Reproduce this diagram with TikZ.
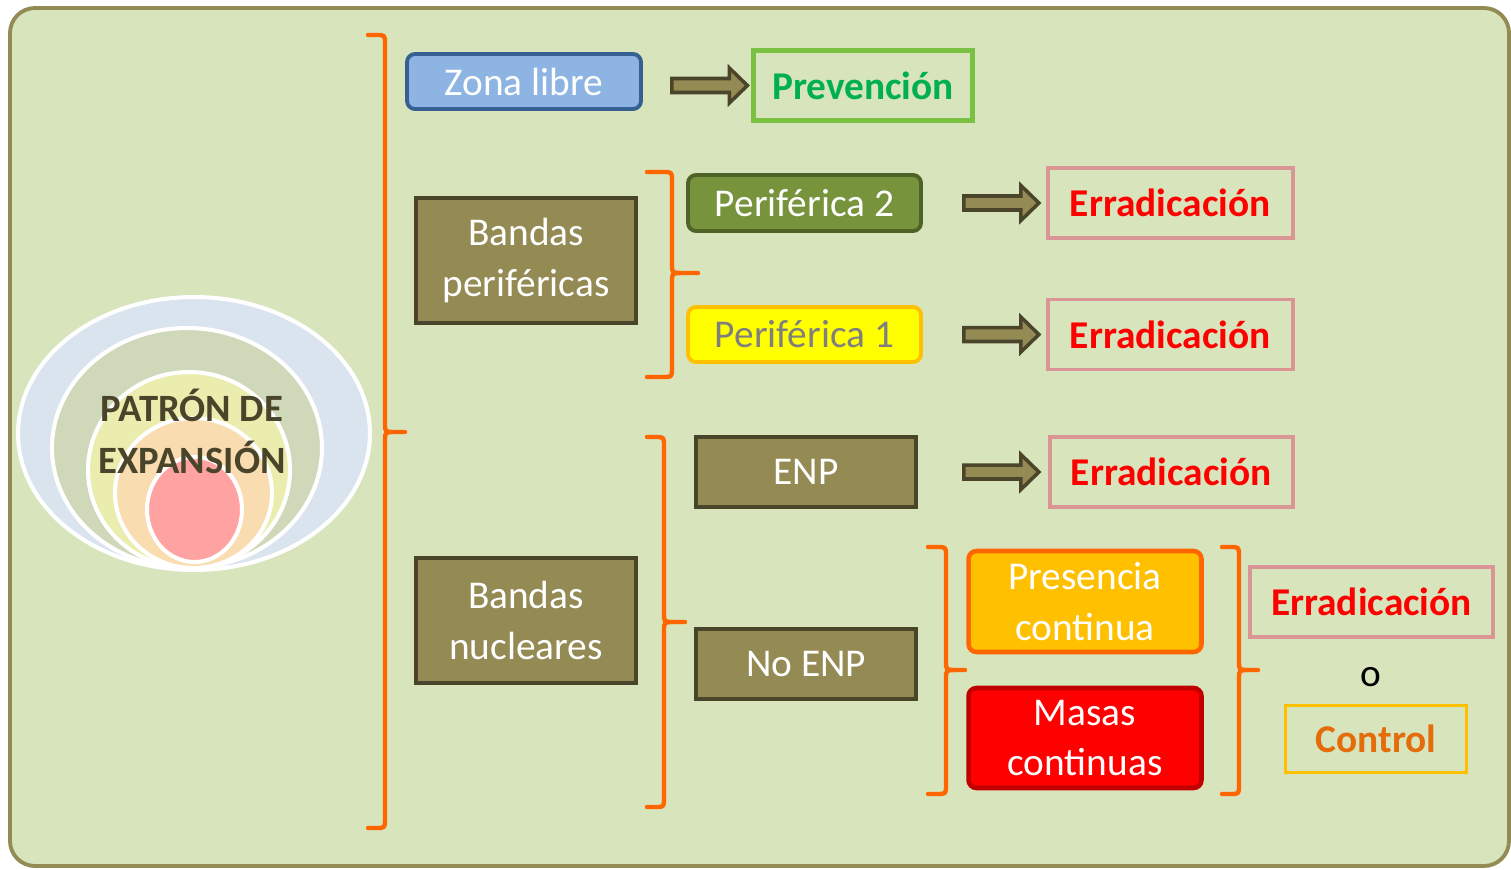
\documentclass[tikz,border=0pt]{standalone}
\usepackage{fontspec}
\setmainfont{Carlito}
\usetikzlibrary{positioning,calc}

\definecolor{bgfill}{HTML}{D8E4BC}
\definecolor{bgline}{HTML}{948A54}
\definecolor{olivefill}{HTML}{948A54}
\definecolor{olivedark}{HTML}{4A452A}
\definecolor{bracecol}{HTML}{FF6600}
\definecolor{zonafill}{HTML}{8DB4E2}
\definecolor{zonaline}{HTML}{376092}
\definecolor{prevline}{HTML}{7AC143}
\definecolor{prevtext}{HTML}{00B050}
\definecolor{pertwofill}{HTML}{77933C}
\definecolor{pertwoline}{HTML}{4F6228}
\definecolor{peronefill}{HTML}{FFFF00}
\definecolor{peroneline}{HTML}{FFC000}
\definecolor{peronetext}{HTML}{7F7F7F}
\definecolor{errline}{HTML}{D99694}
\definecolor{presfill}{HTML}{FFC000}
\definecolor{presline}{HTML}{FF6600}
\definecolor{masasline}{HTML}{C00000}
\definecolor{ctrltext}{HTML}{E46C0A}
\definecolor{ctrlline}{HTML}{FFC000}
\definecolor{ringa}{HTML}{DAE4EF}
\definecolor{ringb}{HTML}{CFD9BA}
\definecolor{ringc}{HTML}{EBEDAE}
\definecolor{ringd}{HTML}{F9DDB1}
\definecolor{ringe}{HTML}{FFA2A2}

% right brace: x left, x line, x tip, y top, y tip, y bottom (in px)
\newcommand{\orangebrace}[6]{%
  \draw[bracestyle] (#1,#4) -- (#2-9,#4) .. controls (#2,#4) .. (#2,#4+9)
    -- (#2,#5-9) .. controls (#2,#5) .. (#2+9,#5) -- (#3,#5);
  \draw[bracestyle] (#1,#6) -- (#2-9,#6) .. controls (#2,#6) .. (#2,#6-9)
    -- (#2,#5+9) .. controls (#2,#5) .. (#2+9,#5);
}

\tikzset{
  txt/.style={font=\fontsize{22.4}{29}\selectfont},
  boldtxt/.style={font=\fontsize{22.4}{29}\selectfont\bfseries},
  bracestyle/.style={draw=bracecol, line width=2.5pt, line cap=round, line join=round},
  olivebox/.style={txt, draw=olivedark, fill=olivefill, line width=2.2pt, text=white,
    minimum width=4.4cm, inner sep=0pt, align=center},
  errbox/.style={boldtxt, draw=errline, line width=2.1pt, text=red,
    minimum width=4.9cm, minimum height=1.4cm, inner sep=0pt},
  roundbox/.style={txt, rounded corners=0.16cm, line width=2.2pt, minimum width=4.66cm,
    inner sep=0pt, align=center},
  fatarrow/.style={draw=olivedark, fill=olivefill, line width=2pt, line join=miter,
    to path={let \p1=(\tikztostart), \p2=(\tikztotarget) in
      (\x1,\y2+0.14cm) -- (\x2-0.36cm,\y2+0.14cm) -- (\x2-0.36cm,\y2+0.35cm) -- (\x2,\y2)
      -- (\x2-0.36cm,\y2-0.35cm) -- (\x2-0.36cm,\y2-0.14cm) -- (\x1,\y2-0.14cm) -- cycle}},
}

\begin{document}
\begin{tikzpicture}[x=0.02cm, y=-0.02cm]
  \useasboundingbox (0,0) rectangle (1511,869);
  %background panel
  \draw[fill=bgfill, draw=bgline, line width=2.2pt, rounded corners=0.5cm] (10,8) rectangle (1509,866);

  %rings of the expansion pattern
  \foreach \cx/\cy/\rx/\ry/\col in {194/433.5/3.52/2.73/ringa, 187/448/2.70/2.40/ringb,
      189/470/2.02/1.96/ringc, 193.5/493/1.57/1.50/ringd, 194.5/509.5/0.95/1.05/ringe}
    \draw[draw=white, line width=2.3pt, fill=\col] (\cx,\cy) ellipse [x radius=\rx cm, y radius=\ry cm];
  \node[boldtxt, font=\fontsize{22}{29.5}\selectfont\bfseries, text=olivedark, align=center]
    (patron) at (192,431) {PATRÓN DE\\EXPANSIÓN};

  %left column
  \node[roundbox, draw=zonaline, fill=zonafill, text=white, minimum width=4.68cm, minimum height=1.1cm]
    (zona) at (524,81.5) {Zona libre};
  \node[olivebox, minimum height=2.5cm] (bperif) at (526,260.5) {Bandas\\periféricas};
  \node[olivebox, minimum height=2.5cm] (bnuc) at (526,620.5) {Bandas\\nucleares};

  %middle column
  \node[roundbox, draw=pertwoline, fill=pertwofill, text=white, minimum height=1.12cm]
    (per2) at (804.5,203) {Periférica 2};
  \node[roundbox, draw=peroneline, fill=peronefill, text=peronetext, minimum height=1.1cm]
    (per1) at (804.5,334.5) {Periférica 1};
  \node[olivebox, minimum height=1.4cm] (enp) at (806,472) {ENP};
  \node[olivebox, minimum height=1.4cm] (noenp) at (806,664) {No ENP};

  %results
  \node[boldtxt, draw=prevline, line width=2.4pt, text=prevtext,
    minimum width=4.38cm, minimum height=1.4cm, inner sep=0pt, right=2.17cm of zona, yshift=-0.08cm]
    (prev) {Prevención};
  \node[errbox, right=2.46cm of per2] (err1) {Erradicación};
  \node[errbox, right=2.46cm of per1] (err2) {Erradicación};
  \node[errbox, minimum width=4.86cm, right=2.6cm of enp] (err3) {Erradicación};

  %no ENP cases
  \node[roundbox, draw=presline, line width=2.6pt, fill=presfill, text=white, minimum height=2.02cm]
    (pres) at (1085,601.5) {Presencia\\continua};
  \node[roundbox, draw=masasline, line width=2.6pt, fill=red, text=white, minimum height=2cm]
    (masas) at (1085,738) {Masas\\continuas};
  \node[errbox, minimum width=4.86cm] (err4) at (1371.5,602) {Erradicación};
  \node[txt] (o) at (1371,677) {o};
  \node[boldtxt, draw=ctrlline, line width=2.1pt, text=ctrltext,
    minimum width=3.62cm, minimum height=1.34cm, inner sep=0pt] (ctrl) at (1376,739) {Control};

  %arrows
  \draw[fatarrow] ([xshift=0.58cm]zona.east) to ([xshift=-0.08cm]prev.west);
  \draw[fatarrow] ([xshift=0.82cm]per2.east) to ([xshift=-0.14cm]err1.west);
  \draw[fatarrow] ([xshift=0.82cm]per1.east) to ([xshift=-0.14cm]err2.west);
  \draw[fatarrow] ([xshift=0.92cm]enp.east) to ([xshift=-0.18cm]err3.west);

  %braces
  \orangebrace{368}{385}{405}{35}{432}{828}
  \orangebrace{647}{672}{698}{172}{273}{377}
  \orangebrace{647}{664}{685}{437}{622}{807}
  \orangebrace{928}{946}{965}{547}{670}{794}
  \orangebrace{1222}{1239}{1258}{547}{670}{794}
\end{tikzpicture}
\end{document}
